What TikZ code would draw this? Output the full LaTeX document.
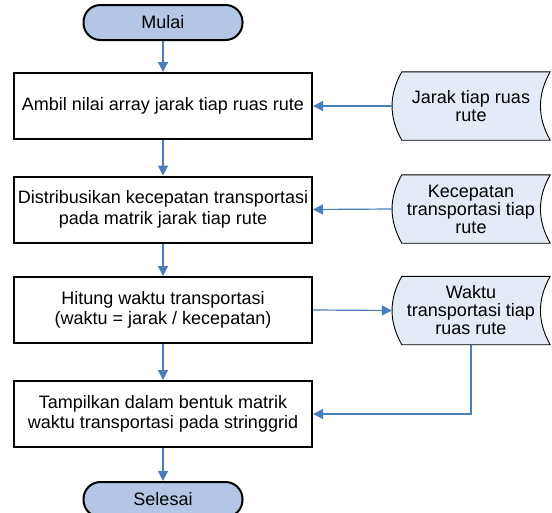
\documentclass[tikz,border=0pt]{standalone}
\usepackage{fontspec}
\setmainfont{Liberation Sans}
\usetikzlibrary{arrows.meta}
\definecolor{flowblue}{HTML}{4A7EBB}
\definecolor{termfill}{HTML}{B3C6E6}
\definecolor{storefill}{HTML}{E4EBF6}
\tikzset{
  every node/.style={font=\fontsize{18}{20.5}\selectfont, align=center},
  terminal/.style={draw=black, line width=2pt, fill=termfill, rounded corners=17pt,
    minimum width=159pt, minimum height=35pt, inner sep=0pt},
  process/.style={draw=black, line width=2pt, fill=white,
    minimum width=298pt, minimum height=66pt, inner sep=0pt},
  store/.style={minimum width=158pt, minimum height=68pt, inner sep=0pt},
  storetext/.style={font=\fontsize{18}{18}\selectfont},
  flow/.style={draw=flowblue, line width=1.2pt, -{Triangle[length=10pt,width=10pt]}},
}
% stored-data outline: curved left and right sides
\newcommand{\storeoutline}[1]{%
  \path[draw=black, line width=0.9pt, fill=storefill]
    ([xshift=10pt]#1.north west) -- (#1.north east)
    .. controls ([xshift=-13pt,yshift=-23pt]#1.north east) and ([xshift=-13pt,yshift=23pt]#1.south east) .. (#1.south east)
    -- ([xshift=10pt]#1.south west)
    .. controls ([xshift=-3pt,yshift=23pt]#1.south west) and ([xshift=-3pt,yshift=-23pt]#1.north west) .. ([xshift=10pt]#1.north west) -- cycle;}
\begin{document}
\begin{tikzpicture}[x=1pt, y=-1pt]
\useasboundingbox (0,0) rectangle (552,512);
\clip (0,0) rectangle (552,512);

% data stores (outline drawn first, text on top)
\node[store] (s1) at (471,106) {};
\node[store] (s2) at (471,209) {};
\node[store] (s3) at (471,310.5) {};
\storeoutline{s1}
\storeoutline{s2}
\storeoutline{s3}
\node[storetext] at (s1) {Jarak tiap ruas\\rute};
\node[storetext] at (s2) {Kecepatan\\transportasi tiap\\rute};
\node[storetext] at (s3) {Waktu\\transportasi tiap\\ruas rute};

% main flow
\node[terminal] (start) at (163,22.5) {Mulai};
\node[process] (p1) at (163,106) {Ambil nilai array jarak tiap ruas rute};
\node[process] (p2) at (163,209.5) {Distribusikan kecepatan transportasi\\pada matrik jarak tiap rute};
\node[process] (p3) at (163,310) {Hitung waktu transportasi\\(waktu = jarak / kecepatan)};
\node[process] (p4) at (163,414) {Tampilkan dalam bentuk matrik\\waktu transportasi pada stringgrid};
\node[terminal] (end) at (163,499.5) {Selesai};

\draw[flow] (start) -- (p1);
\draw[flow] (p1) -- (p2);
\draw[flow] (p2) -- (p3);
\draw[flow] (p3) -- (p4);
\draw[flow] (p4) -- (end);

\draw[flow] (s1.west) -- (p1.east);
\draw[flow] (s2.west) -- (p2.east);
\draw[flow] (p3.east) -- (s3.west);
\draw[flow] (s3.south) |- (p4.east);
\end{tikzpicture}
\end{document}
